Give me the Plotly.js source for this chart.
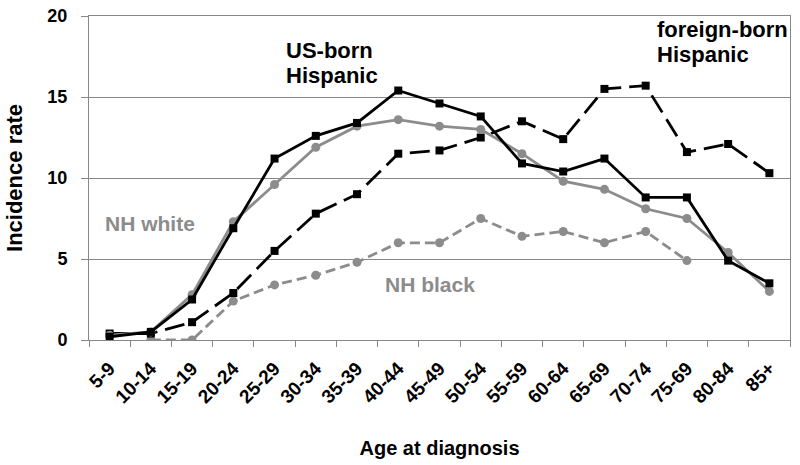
<!DOCTYPE html>
<html><head><meta charset="utf-8">
<script src="https://cdn.plot.ly/plotly-3.0.1.min.js"></script>
<style>html,body{margin:0;padding:0;background:#fff}#c{width:800px;height:465px}</style>
</head><body><div id="c"></div>
<script>
const ageGroups = ["5-9","10-14","15-19","20-24","25-29","30-34","35-39","40-44","45-49","50-54","55-59","60-64","65-69","70-74","75-69","80-84","85+"];
const usBornHispanic = [0.2,0.5,2.5,6.9,11.2,12.6,13.4,15.4,14.6,13.8,10.9,10.4,11.2,8.8,8.8,4.9,3.5];
const nhWhite = [0.3,0.5,2.8,7.3,9.6,11.9,13.2,13.6,13.2,13.0,11.5,9.8,9.3,8.1,7.5,5.4,3.0];
const foreignBornHispanic = [0.4,0.4,1.1,2.9,5.5,7.8,9.0,11.5,11.7,12.5,13.5,12.4,15.5,15.7,11.6,12.1,10.3];
const nhBlack = [null,0,0,2.4,3.4,4.0,4.8,6.0,6.0,7.5,6.4,6.7,6.0,6.7,4.9,null,null];
const yTicks = [0,5,10,15,20];

const gray = "#8c8c8c";
const traces = [
  {x: ageGroups, y: nhBlack, mode: "lines+markers", line: {color: gray, width: 2.8, dash: "10px,5px"}, marker: {symbol: "circle", size: 9, color: gray}},
  {x: ageGroups, y: foreignBornHispanic, mode: "lines+markers", line: {color: "#000", width: 2.8, dash: "20px,8px"}, marker: {symbol: "square", size: 8, color: "#000"}},
  {x: ageGroups, y: nhWhite, mode: "lines+markers", line: {color: gray, width: 2.8}, marker: {symbol: "circle", size: 9, color: gray}},
  {x: ageGroups, y: usBornHispanic, mode: "lines+markers", line: {color: "#000", width: 2.8}, marker: {symbol: "square", size: 8, color: "#000"}}
];
const fam = "Liberation Sans, Arial, sans-serif";
function lbl(text, x, y, color, size) {
  return {xref: "paper", yref: "paper", x: x, y: y, xanchor: "left", yanchor: "middle", showarrow: false,
          text: "<b>" + text + "</b>", font: {size: size, color: color, family: fam}};
}
const layout = {
  width: 800, height: 465,
  margin: {l: 89, r: 10, t: 16, b: 125},
  paper_bgcolor: "#fff", plot_bgcolor: "#fff",
  showlegend: false,
  font: {family: fam, color: "#000"},
  xaxis: {
    type: "category", range: [-0.5, 16.5],
    showgrid: false, showline: true, linecolor: "#888", linewidth: 1, mirror: true,
    ticks: "outside", tickson: "boundaries", ticklen: 6, tickcolor: "#888",
    ticklabelstandoff: 9,
    tickangle: -45, tickfont: {size: 19, weight: "bold"},
    title: {text: "<b>Age at diagnosis</b>", font: {size: 20}, standoff: 34}
  },
  yaxis: {
    range: [0, 20], tickvals: yTicks, showgrid: true, gridcolor: "#888", gridwidth: 1,
    showline: true, linecolor: "#888", mirror: true, zeroline: false,
    ticks: "outside", ticklen: 7, tickcolor: "#888",
    ticklabelstandoff: 10,
    tickfont: {size: 18, weight: "bold"},
    title: {text: "<b>Incidence rate</b>", font: {size: 22}, standoff: 18}
  },
  annotations: [
    lbl("US-born", 0.278, 0.893, "#000", 22),
    lbl("Hispanic", 0.278, 0.815, "#000", 22),
    lbl("foreign-born", 0.807, 0.958, "#000", 22),
    lbl("Hispanic", 0.807, 0.881, "#000", 22),
    lbl("NH white", 0.02, 0.360, gray, 21),
    lbl("NH black", 0.420, 0.170, gray, 21)
  ]
};
Plotly.newPlot("c", traces, layout, {displayModeBar: false});
</script></body></html>
